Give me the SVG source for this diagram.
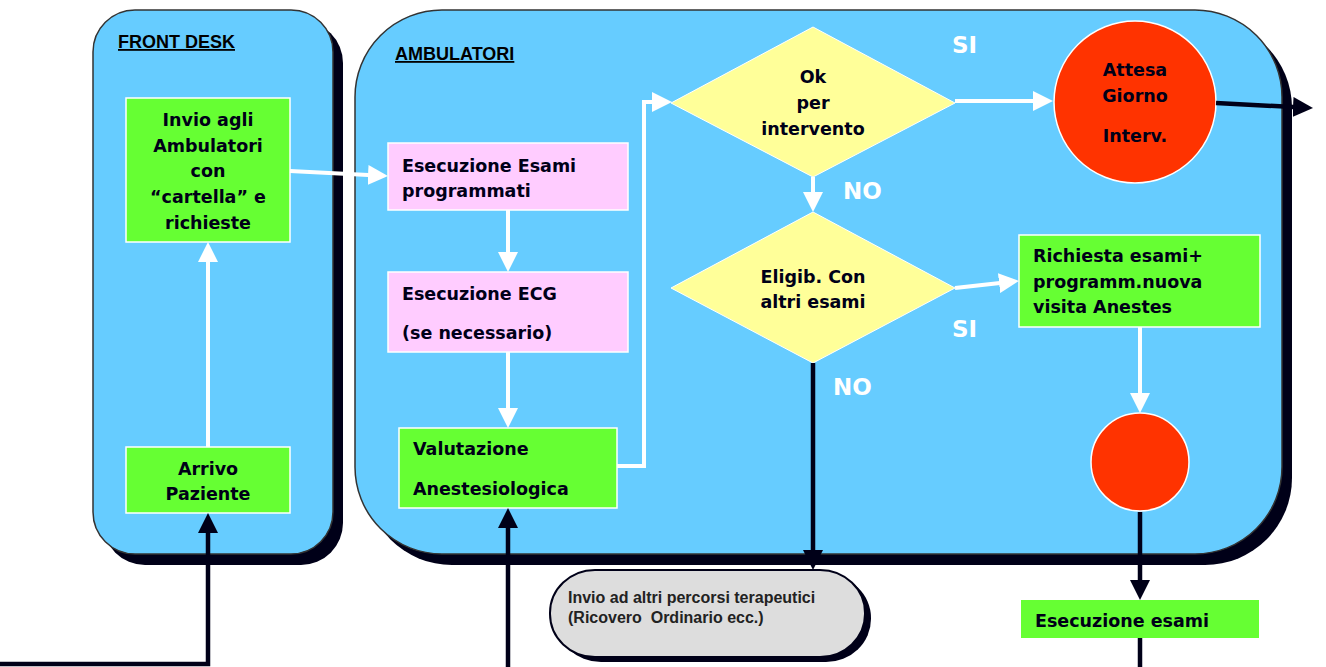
<svg xmlns="http://www.w3.org/2000/svg" width="1326" height="667" viewBox="0 0 1326 667">
<defs>
<style>
.panel{fill:#66CCFF;stroke:#333333;stroke-width:1.5}
.shadow{fill:#000018}
.title{font-family:"Liberation Sans",Arial,sans-serif;font-weight:bold;font-size:18px;fill:#000;text-decoration:underline}
.t{font-family:"DejaVu Sans",sans-serif;font-weight:bold;font-size:17.5px;fill:#000018}
.c{text-anchor:middle}
.green{fill:#66FF33;stroke:#FFFFFF;stroke-width:1.5}
.pink{fill:#FFCCFF;stroke:#FFFFFF;stroke-width:1.5}
.yellow{fill:#FFFF99;stroke:#FFFFFF;stroke-width:1}
.red{fill:#FF3300;stroke:#FFFFFF;stroke-width:1.5}
.lbl{font-family:"DejaVu Sans",sans-serif;font-weight:bold;font-size:23px;fill:#FFFFFF}
.w{fill:none;stroke:#FFFFFF;stroke-width:4;marker-end:url(#wa)}
.d{fill:none;stroke:#000018;stroke-width:4.5;marker-end:url(#da)}
.gt{font-family:"Liberation Sans",Arial,sans-serif;font-weight:bold;font-size:16px;fill:#222;white-space:pre}
</style>
<marker id="wa" viewBox="0 0 20 20" refX="10" refY="10" markerWidth="20" markerHeight="20" markerUnits="userSpaceOnUse" orient="auto"><path d="M0,0 L20,10 L0,20 z" fill="#FFFFFF"/></marker>
<marker id="da" viewBox="0 0 20 20" refX="10" refY="10" markerWidth="20" markerHeight="20" markerUnits="userSpaceOnUse" orient="auto"><path d="M0,0 L20,10 L0,20 z" fill="#000018"/></marker>
</defs>
<rect width="1326" height="667" fill="#FFFFFF"/>

<g id="front-desk">
<rect class="shadow" x="103" y="21" width="240" height="544" rx="42"/>
<rect class="panel" x="93" y="10" width="240" height="544" rx="42"/>
<text class="title" x="118" y="48">FRONT DESK</text>
</g>
<g id="ambulatori">
<rect class="shadow" x="365" y="21" width="927" height="544" rx="87"/>
<rect class="panel" x="355" y="10" width="927" height="544" rx="87"/>
<text class="title" x="395" y="60">AMBULATORI</text>
</g>

<g id="invio-ambulatori">
<rect class="green" x="126" y="98" width="164" height="144"/>
<text class="t c" x="208" y="126">Invio agli</text>
<text class="t c" x="208" y="152">Ambulatori</text>
<text class="t c" x="208" y="177">con</text>
<text class="t c" x="208" y="203">“cartella” e</text>
<text class="t c" x="208" y="229">richieste</text>
</g>
<g id="arrivo-paziente">
<rect class="green" x="126" y="447" width="164" height="66"/>
<text class="t c" x="208" y="475">Arrivo</text>
<text class="t c" x="208" y="500">Paziente</text>
</g>
<g id="esecuzione-esami-programmati">
<rect class="pink" x="388" y="143" width="240" height="67"/>
<text class="t" x="402" y="172">Esecuzione Esami</text>
<text class="t" x="402" y="197">programmati</text>
</g>
<g id="esecuzione-ecg">
<rect class="pink" x="388" y="272" width="240" height="80"/>
<text class="t" x="402" y="300">Esecuzione ECG</text>
<text class="t" x="402" y="339">(se necessario)</text>
</g>
<g id="valutazione">
<rect class="green" x="399" y="428" width="218" height="80"/>
<text class="t" x="413" y="455">Valutazione</text>
<text class="t" x="413" y="495">Anestesiologica</text>
</g>
<g id="ok-intervento">
<polygon class="yellow" points="813,27 955,103 813,177 671,103"/>
<text class="t c" x="813" y="83">Ok</text>
<text class="t c" x="813" y="109">per</text>
<text class="t c" x="813" y="135">intervento</text>
</g>
<g id="eligib">
<polygon class="yellow" points="813,212 955,288 813,363 671,288"/>
<text class="t c" x="813" y="283">Eligib. Con</text>
<text class="t c" x="813" y="308">altri esami</text>
</g>
<g id="attesa">
<circle class="red" cx="1135" cy="102" r="81"/>
<text class="t c" x="1135" y="76">Attesa</text>
<text class="t c" x="1135" y="102">Giorno</text>
<text class="t c" x="1135" y="142">Interv.</text>
</g>
<g id="richiesta">
<rect class="green" x="1019" y="235" width="241" height="92"/>
<text class="t" x="1033" y="262">Richiesta esami+</text>
<text class="t" x="1033" y="288">programm.nuova</text>
<text class="t" x="1033" y="313">visita Anestes</text>
</g>
<g id="nodo">
<circle class="red" cx="1140" cy="462" r="49"/>
</g>
<g id="esecuzione-esami">
<rect x="1021" y="600" width="238" height="38" fill="#66FF33"/>
<text class="t" x="1035" y="627">Esecuzione esami</text>
</g>
<g id="invio-altri-percorsi">
<rect x="556" y="575" width="315" height="87" rx="45" ry="43" fill="#000018"/>
<rect x="550" y="570" width="315" height="87" rx="45" ry="43" fill="#DDDDDD" stroke="#000018" stroke-width="2"/>
<text class="gt" x="568" y="603">Invio ad altri percorsi terapeutici</text>
<text class="gt" x="568" y="623">(Ricovero  Ordinario ecc.)</text>
</g>

<g id="connectors">
<line class="w" x1="208" y1="447" x2="208" y2="252"/>
<line class="w" x1="290" y1="171" x2="378" y2="175.5"/>
<line class="w" x1="508" y1="210" x2="508" y2="262"/>
<line class="w" x1="508" y1="352" x2="508" y2="418"/>
<polyline class="w" points="617,466 644,466 644,102 662,102"/>
<line class="w" x1="955" y1="101" x2="1043" y2="101"/>
<line class="w" x1="813" y1="177" x2="813" y2="202"/>
<line class="w" x1="955" y1="288" x2="1009" y2="282"/>
<line class="w" x1="1140" y1="327" x2="1140" y2="403"/>
<polyline class="d" points="0,664 208,664 208,523"/>
<line class="d" x1="508" y1="667" x2="508" y2="518"/>
<line class="d" x1="813" y1="363" x2="813" y2="560"/>
<line class="d" x1="1216" y1="103" x2="1303" y2="107.5"/>
<line class="d" x1="1140" y1="512" x2="1140" y2="590"/>
<line x1="1140" y1="638" x2="1140" y2="667" stroke="#000018" stroke-width="4.5"/>
<text class="lbl" x="952" y="53">SI</text>
<text class="lbl" x="843" y="199">NO</text>
<text class="lbl" x="952" y="337">SI</text>
<text class="lbl" x="833" y="395">NO</text>
</g>
</svg>
